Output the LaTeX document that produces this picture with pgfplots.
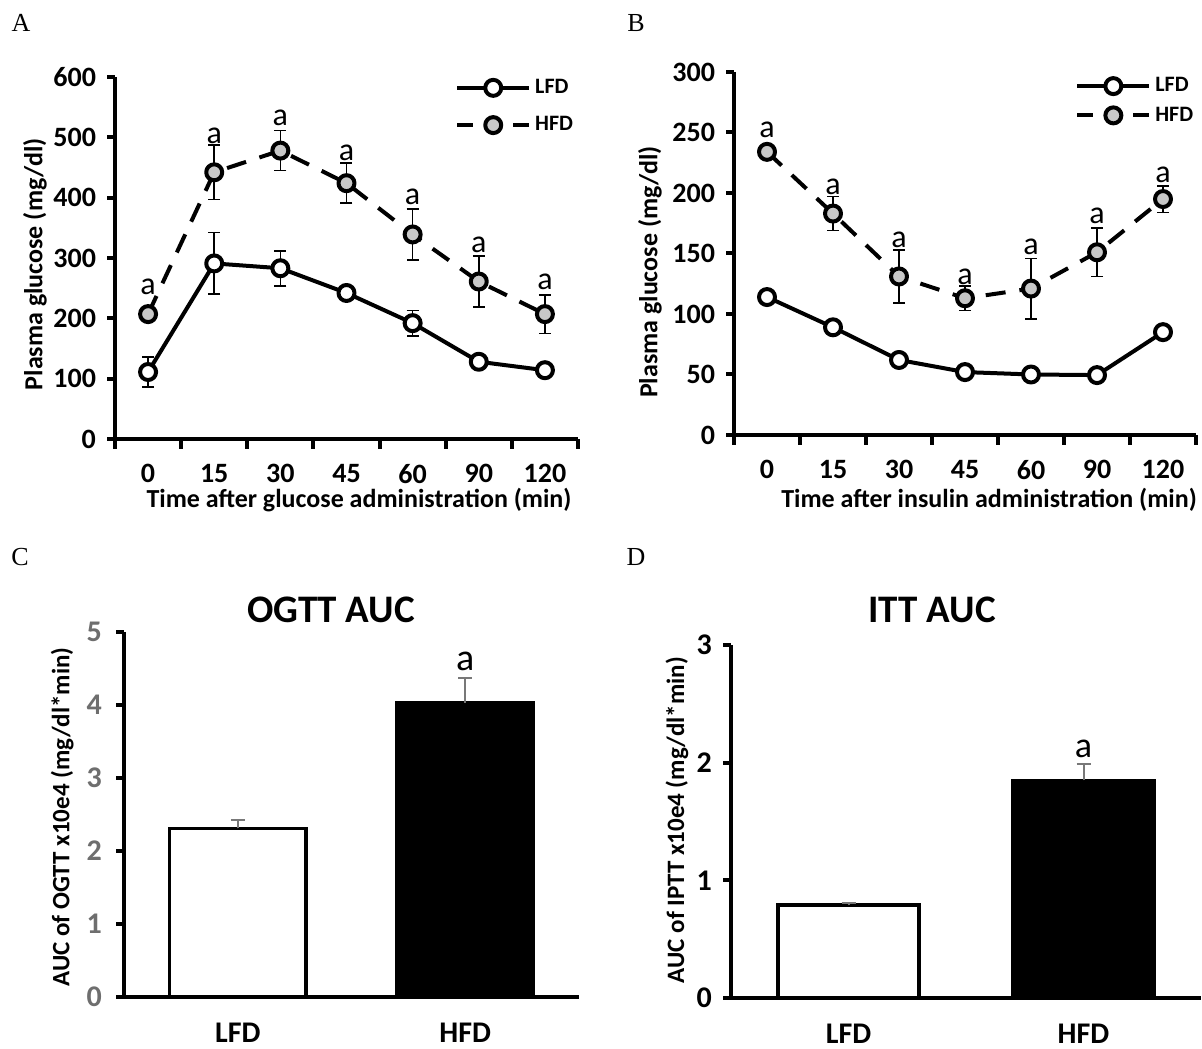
\documentclass[border=0pt]{standalone}
\usepackage{fontspec}
\setmainfont{Carlito}
\newfontfamily\panelfont{Liberation Serif}
\usepackage{pgfplots}
\usepackage{pgfplotstable}
\pgfplotsset{compat=1.18}
\definecolor{hfdgray}{RGB}{200,200,200}
\definecolor{tickgray}{RGB}{110,110,110}
\definecolor{errgray}{RGB}{120,120,120}

% OGTT: time point index, LFD mean/SEM, HFD mean/SEM (mg/dl)
\pgfplotstableread{
x lfd lfderr hfd hfderr
0 111 25 207 4
1 291 51 442 45
2 283 29 478 33
3 242 6 424 33
4 192 21 339 42
5 128 4 261 42
6 114 4 207 32
}\ogtt

% ITT
\pgfplotstableread{
x lfd lfderr hfd hfderr
0 114 3 234 4
1 89 3 183 14
2 62 3 131 22
3 52 3 113 10
4 50 3 121 25
5 49.5 3 151 20
6 85 3 195 11
}\itt

\tikzset{sig/.style={font=\fontsize{16}{16}\selectfont}}

\pgfplotsset{
  base/.style={
    scale only axis, clip=false,
    axis x line=bottom, axis y line=left,
    axis line style={-, line width=2pt},
    tick align=outside, major tick length=4pt,
    ytick style={line width=2pt, black},
    major x tick style={draw=none},
    /pgf/number format/assume math mode=true,
  },
  linepanel/.style={
    base,
    ticklabel style={font=\bfseries\fontsize{14}{14}\selectfont},
    xticklabel style={yshift=-5pt},
    yticklabel style={xshift=-2pt},
    label style={font=\bfseries\fontsize{13}{13}\selectfont},
    xmin=-0.5, xmax=6.5,
    xtick={0,...,6}, xticklabels={0,15,30,45,60,90,120},
    minor xtick={-0.5,0.5,...,6.5},
    minor x tick style={line width=2pt, black},
    minor tick length=5pt,
    legend cell align=left,
    legend style={draw=none, fill=none, inner sep=0pt,
      font=\bfseries\fontsize{11}{11}\selectfont, anchor=north west},
    legend image code/.code={
      \draw[mark repeat=2, mark phase=2] plot coordinates {(0pt,0pt) (18pt,0pt) (36pt,0pt)};},
  },
  errs/.style={draw=none, forget plot,
    error bars/.cd, y dir=both, y explicit,
    error bar style={draw=black, solid, line width=0.8pt},
    error mark options={rotate=90, draw=black, solid, mark size=3pt, line width=0.8pt}},
  lfdline/.style={black, line width=2pt, line join=round, mark=*, mark size=4pt,
    mark options={fill=white, solid, line width=2pt}},
  hfdline/.style={black, line width=2pt, line join=round, dash pattern=on 10pt off 7pt,
    mark=*, mark size=4pt, mark options={fill=hfdgray, solid, line width=2pt},
    legend image code/.code={
      \draw[solid] (0pt,0pt)--(8pt,0pt) (28pt,0pt)--(36pt,0pt);
      \draw plot coordinates {(18pt,0pt)};}},
  barpanel/.style={
    base,
    ticklabel style={font=\bfseries\fontsize{15}{15}\selectfont},
    xticklabel style={yshift=-5.5pt},
    label style={font=\bfseries\fontsize{12.5}{12.5}\selectfont},
    xmin=-0.5, xmax=1.5, ymin=0,
    xtick={0,1}, xticklabels={LFD,HFD},
    title style={font=\bfseries\fontsize{19.5}{19.5}\selectfont, anchor=center},
  },
  barerr/.style={error bars/.cd, y dir=plus, y explicit,
    error bar style={draw=errgray, line width=1pt},
    error mark options={rotate=90, draw=errgray, mark size=3.5pt, line width=1pt}},
}

\begin{document}
\begin{tikzpicture}
\useasboundingbox (0,0) rectangle (601pt,524pt);

\node[font=\panelfont\fontsize{13}{13}\selectfont] at (10.5pt,512.5pt) {A};
\node[font=\panelfont\fontsize{13}{13}\selectfont] at (318pt,512.5pt) {B};
\node[font=\panelfont\fontsize{13}{13}\selectfont] at (10pt,245.5pt) {C};
\node[font=\panelfont\fontsize{13}{13}\selectfont] at (318pt,245.5pt) {D};

% A: OGTT
\begin{axis}[linepanel,
  at={(57.5pt,304.5pt)}, anchor=south west,
  width=231.5pt, height=181pt,
  ymin=0, ymax=600, ytick={0,100,...,600},
  xlabel={Time after glucose administration (min)},
  ylabel={Plasma glucose (mg/dl)},
  xlabel style={at={(axis description cs:0.527,-0.168)}, anchor=center},
  ylabel style={at={(axis description cs:-0.173,0.483)}, anchor=center},
  legend style={at={(axis description cs:0.734,1.006)}, row sep=6pt},
]
\addplot[errs] table[x=x, y=lfd, y error=lfderr] {\ogtt};
\addplot[errs] table[x=x, y=hfd, y error=hfderr] {\ogtt};
\addplot[lfdline] table[x=x, y=lfd] {\ogtt};
\addlegendentry{LFD}
\addplot[hfdline] table[x=x, y=hfd] {\ogtt};
\addlegendentry{HFD}
\node[sig] at (axis cs:0,252) {a};
\node[sig] at (axis cs:1,503) {a};
\node[sig] at (axis cs:2,533) {a};
\node[sig] at (axis cs:3,475) {a};
\node[sig] at (axis cs:4,401) {a};
\node[sig] at (axis cs:5,321) {a};
\node[sig] at (axis cs:6,261) {a};
\end{axis}

% B: ITT
\begin{axis}[linepanel,
  at={(367pt,306.5pt)}, anchor=south west,
  width=231pt, height=181.5pt,
  ymin=0, ymax=300, ytick={0,50,...,300},
  xlabel={Time after insulin administration (min)},
  ylabel={Plasma glucose (mg/dl)},
  xlabel style={at={(axis description cs:0.552,-0.179)}, anchor=center},
  ylabel style={at={(axis description cs:-0.182,0.449)}, anchor=center},
  legend style={at={(axis description cs:0.738,0.997)}, row sep=2pt},
]
\addplot[errs] table[x=x, y=hfd, y error=hfderr] {\itt};
\addplot[lfdline] table[x=x, y=lfd] {\itt};
\addlegendentry{LFD}
\addplot[hfdline] table[x=x, y=hfd] {\itt};
\addlegendentry{HFD}
\node[sig] at (axis cs:0,252) {a};
\node[sig] at (axis cs:1,205) {a};
\node[sig] at (axis cs:2,161) {a};
\node[sig] at (axis cs:3,131) {a};
\node[sig] at (axis cs:4,155.5) {a};
\node[sig] at (axis cs:5,181) {a};
\node[sig] at (axis cs:6,215) {a};
\end{axis}

% C: OGTT AUC
\begin{axis}[barpanel,
  at={(62pt,25.5pt)}, anchor=south west,
  width=227.5pt, height=182.5pt,
  ymax=5, ytick={0,...,5},
  yticklabel style={text=tickgray, xshift=-3.5pt},
  title={OGTT AUC},
  title style={at={(axis description cs:0.455,1)}, yshift=5pt},
  ylabel={AUC of OGTT x10e4 (mg/dl*min)},
  ylabel style={at={(axis description cs:-0.136,0.493)}, anchor=center},
]
\addplot[ybar, bar width=0.6, bar shift=0pt, fill=white, draw=black, line width=1.75pt, barerr]
  coordinates {(0,2.31) +- (0,0.12)};
\addplot[ybar, bar width=0.6, bar shift=0pt, fill=black, draw=black, line width=1.75pt, barerr]
  coordinates {(1,4.03) +- (0,0.34)};
\node[font=\fontsize{19}{19}\selectfont] at (axis cs:1,4.60) {a};
\end{axis}

% D: ITT AUC
\begin{axis}[barpanel,
  at={(365.5pt,25pt)}, anchor=south west,
  width=235pt, height=176.5pt,
  ymax=3, ytick={0,...,3},
  yticklabel style={xshift=-2pt},
  title={ITT AUC},
  title style={at={(axis description cs:0.428,1)}, yshift=11.5pt},
  ylabel={AUC of IPTT x10e4 (mg/dl*min)},
  ylabel style={at={(axis description cs:-0.115,0.504)}, anchor=center},
]
\addplot[ybar, bar width=0.6, bar shift=0pt, fill=white, draw=black, line width=1.75pt, barerr]
  coordinates {(0,0.79) +- (0,0.02)};
\addplot[ybar, bar width=0.6, bar shift=0pt, fill=black, draw=black, line width=1.75pt, barerr]
  coordinates {(1,1.85) +- (0,0.14)};
\node[font=\fontsize{18}{18}\selectfont] at (axis cs:1,2.12) {a};
\end{axis}
\end{tikzpicture}
\end{document}
